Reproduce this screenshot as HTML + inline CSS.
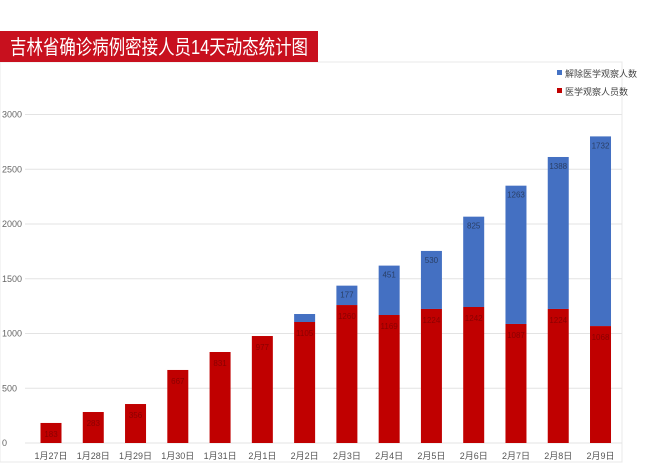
<!DOCTYPE html>
<html><head><meta charset="utf-8"><style>
body{margin:0;width:650px;height:466px;background:#fff;overflow:hidden;font-family:"Liberation Sans","Noto Sans CJK SC",sans-serif}
</style></head><body>
<svg width="650" height="466" xmlns="http://www.w3.org/2000/svg">
<rect x="0" y="62" width="622" height="400" fill="#fff" stroke="#e8e8e8"/>
<rect x="0" y="31" width="318" height="31" fill="#c8101e"/>
<text x="10" y="54" fill="#fff" font-size="20" textLength="298" lengthAdjust="spacingAndGlyphs" font-family="Liberation Sans,Noto Sans CJK SC,sans-serif">吉林省确诊病例密接人员14天动态统计图</text>
<g>
<rect x="557" y="70" width="5" height="5" fill="#4472c4"/>
<text x="565" y="77" font-size="9" fill="#444">解除医学观察人数</text>
<rect x="557" y="88" width="5" height="5" fill="#c00000"/>
<text x="565" y="95" font-size="9" fill="#444">医学观察人员数</text>
</g>
<g id="grid"></g><g id="bars"></g><g id="labels"></g>
</svg>
<script>
const categories=["1月27日","1月28日","1月29日","1月30日","1月31日","2月1日","2月2日","2月3日","2月4日","2月5日","2月6日","2月7日","2月8日","2月9日"];
const observed=[183,283,356,667,831,977,1105,1260,1169,1224,1242,1087,1224,1068];
const released=[0,0,0,0,0,0,73,177,451,530,825,1263,1388,1732];
const yTicks=[0,500,1000,1500,2000,2500,3000];
const NS="http://www.w3.org/2000/svg";
const y0=443,k=328.5/3000;
const yS=v=>y0-v*k;
const xS=i=>51+i*42.27;
const bw=21;
const grid=document.getElementById('grid'),bars=document.getElementById('bars'),labels=document.getElementById('labels');
function mk(tag,attrs,parent){const e=document.createElementNS(NS,tag);for(const a in attrs)e.setAttribute(a,attrs[a]);parent.appendChild(e);return e;}
yTicks.forEach(t=>{
 const l=mk('line',{x1:25,x2:622,y1:yS(t),y2:yS(t),stroke:'#e3e3e3','stroke-width':1},grid);
 
 
 const tx=mk('text',{x:2,y:yS(t)+3,'font-size':9,fill:'#666'},grid);
 tx.textContent=t;
 
 
});
categories.forEach((c,i)=>{
 const x=xS(i)-bw/2;
 const r=mk('rect',{x:x,y:yS(observed[i]),width:bw,height:observed[i]*k,fill:'#c00000'},bars);
 
 
 if(released[i]>0){
  const b=mk('rect',{x:x,y:yS(observed[i]+released[i]),width:bw,height:released[i]*k,fill:'#4470c2'},bars);
  
  
  if(released[i]>100){
   const bt=mk('text',{x:xS(i),y:yS(observed[i]+released[i])+12,'font-size':8,fill:'#2a3f66','text-anchor':'middle'},labels);
   bt.textContent=released[i];
   
   
  }
 }
 const rt=mk('text',{x:xS(i),y:yS(observed[i])+14,'font-size':8,fill:'#8a0000','text-anchor':'middle'},labels);
 rt.textContent=observed[i];
 
 
 const xt=mk('text',{x:xS(i),y:459,'font-size':9,fill:'#555','text-anchor':'middle'},labels);
 xt.textContent=c;
 
 
});
</script>
</body></html>
